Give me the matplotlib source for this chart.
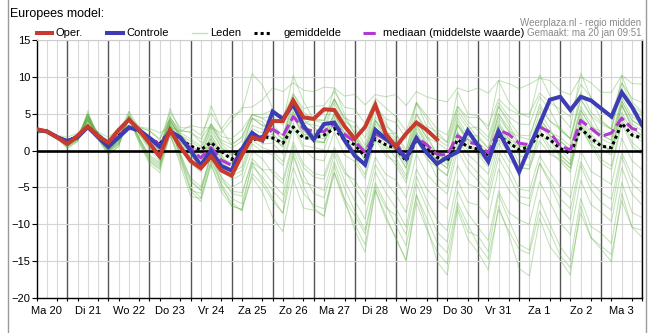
import numpy as np
import matplotlib
matplotlib.use("Agg")
import matplotlib.pyplot as plt
from matplotlib.lines import Line2D

plt.rcParams['font.family'] = ['Liberation Sans', 'DejaVu Sans']

# lead time in hours from ma 20 00:00, one value every 6 h
uren = np.arange(6, 361, 6)
dagen = ['Ma 20', 'Di 21', 'Wo 22', 'Do 23', 'Vr 24', 'Za 25', 'Zo 26', 'Ma 27',
         'Di 28', 'Wo 29', 'Do 30', 'Vr 31', 'Za 1', 'Zo 2', 'Ma 3']

oper = [2.9, 2.6, 1.8, 0.9, 2.0, 3.3, 1.9, 1.1, 2.8, 4.2, 2.8, 1.0, -0.8, 2.8, 0.5,
        -1.4, -2.4, -0.8, -2.7, -3.4, -0.6, 1.8, 1.4, 4.0, 4.0, 6.8, 4.5, 4.3, 5.6, 5.5,
        3.3, 1.6, 3.2, 6.2, 2.3, 0.5, 2.3, 3.8, 2.8, 1.5]
controle = [2.8, 2.6, 1.8, 1.3, 1.8, 3.2, 1.8, 0.5, 1.8, 3.1, 2.8, 1.7, 0.5, 2.6, 1.8,
            0.0, -2.0, 0.0, -2.1, -2.7, 0.2, 2.4, 1.4, 5.3, 4.3, 6.3, 3.4, 1.5, 3.6, 3.8,
            1.4, -0.7, -1.9, 2.8, 1.6, 0.5, -1.1, 1.7, -0.3, -1.8, -0.9, -0.2, 2.7, 0.7,
            -1.5, 2.6, 0.0, -2.9, 0.4, 3.6, 6.9, 7.3, 5.5, 7.3, 6.8, 5.7, 4.6, 7.9, 5.9, 3.4]
gemiddelde = [2.8, 2.6, 1.9, 1.2, 2.0, 3.2, 2.1, 1.0, 2.0, 3.2, 2.6, 1.7, 0.9, 2.7, 1.6,
              0.6, 0.1, 1.1, -0.1, -1.2, 0.3, 1.4, 1.9, 1.7, 1.0, 3.2, 1.7, 1.7, 2.1, 3.0,
              1.4, 0.8, -0.8, 1.6, 0.8, 0.3, -1.4, 1.5, 0.3, -0.9, -1.4, 1.5, 0.5, 0.2,
              -0.7, 2.0, 1.1, 0.1, 0.5, 2.3, 1.5, 0.3, -0.4, 3.0, 1.7, 0.6, 0.4, 3.7, 2.1, 1.7]
mediaan = [2.8, 2.6, 1.9, 1.2, 2.0, 3.2, 2.1, 0.9, 2.0, 3.2, 2.7, 1.8, 0.8, 2.7, 1.7,
           0.3, -1.0, 0.4, -1.3, -2.0, 0.0, 1.8, 1.8, 2.9, 2.0, 4.6, 3.0, 2.6, 2.6, 3.6,
           2.2, 1.2, -0.2, 2.3, 1.5, 0.9, -0.9, 1.8, 0.8, -0.5, -0.6, 2.0, 1.2, 0.8,
           -0.3, 2.8, 2.2, 1.0, 0.8, 3.2, 2.5, 0.6, 0.1, 4.1, 3.0, 1.9, 2.4, 4.4, 3.0, 2.6]

leden = [
    [3.2, 2.6, 2.1, 1.8, 2.4, 3.3, 2.5, 1.8, 3.0, 3.4, 3.2, 3.0, 2.4, 3.2, 2.6, 3.4, 3.1, 3.1, 2.4, 4.1, 5.8, 5.9, 6.9, 8.5, 8.0, 9.2, 8.2, 8.0, 8.6, 8.5, 7.4, 7.6, 6.2, 7.6, 7.3, 7.6, 6.1, 8.0, 7.3, 6.9, 6.6, 8.5, 8.0, 8.5, 7.8, 9.5, 9.1, 8.4, 9.0, 9.8, 9.5, 8.1, 7.6, 10.0, 9.2, 7.9, 7.9, 10.2, 9.1, 9.0],
    [2.8, 2.8, 2.0, 1.4, 2.0, 3.8, 2.4, 1.3, 2.1, 4.1, 3.1, 2.7, 1.6, 4.4, 2.8, 2.4, 1.6, 3.6, 1.9, 1.6, 2.8, 4.9, 4.9, 5.5, 4.5, 7.7, 5.7, 6.0, 6.1, 8.0, 5.9, 5.6, 3.7, 7.1, 5.8, 4.6, 2.6, 6.5, 4.8, 2.9, 2.1, 6.0, 4.5, 4.5, 3.3, 7.0, 5.6, 4.9, 5.0, 7.8, 6.5, 5.6, 4.6, 9.0, 7.2, 5.4, 4.9, 9.2, 7.1, 6.5],
    [2.6, 2.7, 1.9, 1.1, 1.9, 4.0, 2.3, 1.2, 2.2, 4.6, 3.2, 2.7, 1.4, 5.2, 3.1, 3.1, 2.1, 5.1, 2.9, 0.8, 1.8, 4.9, 4.4, 3.2, 2.0, 6.2, 3.7, 4.2, 4.1, 7.0, 4.4, 3.8, 1.7, 6.1, 4.3, 3.8, 1.6, 6.5, 4.3, 2.1, 1.1, 6.0, 4.0, 2.7, 1.3, 6.0, 4.1, 2.1, 2.0, 5.8, 4.0, 2.8, 1.6, 7.0, 4.7, 3.6, 2.9, 8.2, 5.6, 4.7],
    [2.5, 2.6, 1.8, 1.2, 2.1, 4.1, 2.4, 0.9, 2.0, 4.3, 2.9, 2.0, 0.7, 4.5, 2.4, 1.6, 0.6, 3.6, 1.4, 0.8, 1.8, 4.9, 4.4, 4.7, 3.5, 7.7, 5.2, 4.2, 4.1, 7.0, 4.4, 2.3, 0.2, 4.6, 2.8, 1.3, -0.9, 4.0, 1.8, 1.1, 0.1, 5.0, 3.0, 3.2, 1.8, 6.5, 4.6, 3.6, 3.5, 7.3, 5.5, 2.8, 1.6, 7.0, 4.7, 2.1, 1.4, 6.7, 4.1, 3.2],
    [2.7, 2.9, 2.1, 0.8, 1.8, 4.1, 2.1, 0.8, 1.9, 4.8, 3.0, 1.5, -0.1, 4.7, 2.1, 0.9, -0.4, 3.6, 0.9, -0.5, 0.3, 4.4, 3.4, 3.0, 1.5, 6.7, 3.7, 3.5, 3.1, 7.0, 3.9, 3.1, 0.7, 6.1, 3.8, 1.6, -0.9, 5.0, 2.3, -0.7, -1.9, 4.0, 1.5, 1.0, -0.7, 5.0, 2.6, 1.9, 1.5, 6.3, 4.0, 3.1, 1.6, 8.0, 5.2, 3.9, 2.9, 9.2, 6.1, 5.0],
    [2.5, 2.5, 1.7, 1.1, 1.9, 4.0, 2.3, 0.8, 2.0, 4.2, 2.8, 1.6, 0.3, 4.1, 2.0, 0.6, -0.4, 2.6, 0.4, -0.7, 0.3, 3.4, 2.9, 2.7, 1.5, 5.7, 3.2, 2.2, 2.1, 5.0, 2.4, 1.8, -0.3, 4.1, 2.3, 2.3, 0.1, 5.0, 2.8, 1.6, 0.6, 5.5, 3.5, 1.7, 0.3, 5.0, 3.1, 0.6, 0.5, 4.3, 2.5, 1.3, 0.1, 5.5, 3.2, 2.1, 1.4, 6.7, 4.1, 3.2],
    [2.6, 2.8, 2.0, 0.8, 1.6, 4.2, 1.9, 0.5, 1.7, 4.5, 2.7, 1.7, 0.4, 4.2, 2.1, 1.3, 0.3, 3.3, 1.1, 0.3, 1.3, 4.4, 3.9, 2.2, 1.0, 5.2, 2.7, 1.7, 1.6, 4.5, 1.9, 1.3, -0.8, 3.6, 1.8, 1.3, -0.9, 4.0, 1.8, -0.4, -1.4, 3.5, 1.5, -0.3, -1.7, 3.0, 1.1, 0.1, 0.0, 3.8, 2.0, 1.3, 0.1, 5.5, 3.2, 2.6, 1.9, 7.2, 4.6, 3.7],
    [2.6, 2.7, 1.9, 0.9, 1.8, 4.2, 2.2, 0.1, 1.5, 4.1, 2.3, 0.5, -1.1, 3.7, 1.1, 0.4, -0.9, 3.1, 0.4, -0.5, 0.3, 4.4, 3.4, 3.5, 2.0, 7.2, 4.2, 3.0, 2.6, 6.5, 3.4, 1.1, -1.3, 4.1, 1.8, 0.1, -2.4, 3.5, 0.8, -0.2, -1.4, 4.5, 2.0, 2.0, 0.3, 6.0, 3.6, 0.9, 0.5, 5.3, 3.0, 0.1, -1.4, 5.0, 2.2, 0.9, -0.1, 6.2, 3.1, 2.0],
    [2.5, 2.7, 1.8, 0.9, 1.7, 4.3, 2.0, 0.2, 1.6, 4.2, 2.4, 1.4, 0.1, 3.9, 1.8, -0.4, -1.4, 1.6, -0.6, -2.2, -1.2, 1.9, 1.4, 1.7, 0.5, 4.7, 2.2, 2.2, 2.1, 5.0, 2.4, 1.8, -0.3, 4.1, 2.3, 0.8, -1.4, 3.5, 1.3, -1.4, -2.4, 2.5, 0.5, 0.2, -1.2, 3.5, 1.6, 0.6, 0.5, 4.3, 2.5, 1.8, 0.6, 6.0, 3.7, 1.6, 0.9, 6.2, 3.6, 2.7],
    [2.7, 2.8, 2.0, 0.6, 1.9, 4.4, 2.1, 0.6, 1.8, 4.6, 2.8, 0.8, -0.5, 3.3, 1.2, -0.9, -1.9, 1.1, -1.1, -1.7, -0.7, 2.4, 1.9, 2.2, 1.0, 5.2, 2.7, 1.2, 1.1, 4.0, 1.4, -0.2, -2.3, 2.1, 0.3, 0.3, -1.9, 3.0, 0.8, -0.4, -1.4, 3.5, 1.5, 1.2, -0.2, 4.5, 2.6, 0.1, 0.0, 3.8, 2.0, -0.7, -1.9, 3.5, 1.2, 0.6, -0.1, 5.2, 2.6, 1.7],
    [2.4, 2.7, 1.7, 0.7, 1.5, 4.4, 1.8, -0.2, 1.3, 4.4, 2.2, 0.1, -1.4, 3.4, 0.8, -1.7, -2.9, 1.1, -1.6, -3.0, -2.2, 1.9, 0.9, 1.0, -0.5, 4.7, 1.7, 1.5, 1.1, 5.0, 1.9, 0.0, -2.3, 3.1, 0.8, -1.0, -3.4, 2.5, -0.2, -1.2, -2.4, 3.5, 1.0, -0.6, -2.2, 3.5, 1.1, -1.7, -2.0, 2.8, 0.5, -0.5, -1.9, 4.5, 1.7, 0.9, -0.1, 6.2, 3.1, 2.0],
    [2.5, 2.8, 1.9, 0.8, 1.7, 4.5, 1.9, 0.2, 1.5, 4.8, 2.6, 1.0, -0.6, 4.2, 1.6, -0.7, -1.9, 2.1, -0.6, -3.5, -2.7, 1.4, 0.4, -0.1, -1.5, 3.7, 0.7, 0.4, 0.1, 4.0, 0.9, -1.0, -3.3, 2.1, -0.2, -2.0, -4.4, 1.5, -1.2, -2.2, -3.4, 2.5, 0.0, -0.1, -1.7, 4.0, 1.6, -0.7, -1.0, 3.8, 1.5, -1.0, -2.4, 4.0, 1.2, -1.2, -2.1, 4.2, 1.1, -0.1],
    [2.5, 2.7, 1.8, 0.7, 2.0, 4.9, 2.3, 0.0, 1.4, 4.6, 2.4, 0.4, -1.1, 3.7, 1.1, -1.2, -2.4, 1.6, -1.1, -4.0, -3.2, 0.9, -0.1, -0.6, -2.0, 3.2, 0.2, -1.1, -1.4, 2.5, -0.6, -1.5, -3.8, 1.6, -0.7, -1.5, -3.9, 2.0, -0.7, -3.7, -4.9, 1.0, -1.5, -3.1, -4.7, 1.0, -1.4, -2.2, -2.5, 2.3, 0.0, -1.5, -2.9, 3.5, 0.7, -1.7, -2.6, 3.7, 0.6, -0.6],
    [2.6, 2.8, 2.0, 0.8, 1.6, 4.9, 2.0, 0.1, 1.2, 4.3, 1.7, -0.6, -1.6, 2.7, -0.4, -3.7, -4.9, -0.9, -3.6, -5.0, -4.2, -0.1, -1.1, -3.1, -4.5, 0.7, -2.3, -3.6, -3.9, 0.0, -3.1, -4.0, -6.3, -0.9, -3.2, -4.0, -6.4, -0.5, -3.2, -4.7, -5.9, 0.0, -2.5, -4.1, -5.7, 0.0, -2.4, -5.2, -5.5, -0.7, -3.0, -5.0, -6.4, 0.0, -2.8, -3.7, -4.6, 1.7, -1.4, -2.6],
    [2.4, 2.6, 1.6, 0.7, 1.4, 4.7, 1.8, 0.0, 1.0, 4.2, 1.6, -1.2, -2.2, 2.2, -0.9, -4.2, -5.4, -1.4, -4.1, -5.5, -5.7, -1.6, -2.6, -2.6, -4.0, 1.2, -1.8, -3.1, -3.4, 0.5, -2.6, -5.0, -7.3, -1.9, -4.2, -6.0, -8.4, -2.5, -5.2, -6.7, -7.9, -2.0, -4.5, -5.1, -6.7, -1.0, -3.4, -6.2, -6.5, -1.7, -4.0, -6.5, -7.9, -1.5, -4.3, -5.7, -6.6, -0.3, -3.4, -4.6],
    [2.5, 2.8, 1.9, 0.6, 1.5, 4.9, 1.7, -0.2, 0.9, 4.4, 1.4, -1.0, -2.0, 3.0, -0.6, -5.0, -6.4, -1.4, -4.6, -6.5, -7.2, -2.1, -3.6, -5.4, -7.0, -0.8, -4.3, -4.8, -5.4, -0.5, -4.1, -6.8, -9.3, -2.9, -5.7, -7.8, -10.4, -3.5, -6.7, -9.4, -10.9, -4.0, -7.0, -7.4, -9.2, -2.5, -5.4, -7.0, -7.5, -1.7, -4.5, -7.8, -9.4, -2.0, -5.3, -7.0, -8.1, -0.8, -4.4, -5.8],
    [2.4, 2.7, 1.7, 0.5, 1.4, 4.8, 1.6, -0.3, 0.8, 4.2, 1.2, -1.4, -2.4, 2.2, -1.4, -5.4, -6.9, -1.9, -5.1, -7.0, -8.2, -3.1, -4.6, -6.8, -8.5, -2.3, -5.8, -7.4, -7.9, -3.0, -6.6, -8.8, -11.3, -4.9, -7.7, -8.8, -11.4, -4.5, -7.7, -11.0, -12.4, -5.5, -8.5, -10.4, -12.2, -5.5, -8.4, -9.4, -10.0, -4.2, -7.0, -9.8, -11.4, -4.0, -7.3, -8.4, -9.6, -2.3, -5.9, -7.4],
    [2.4, 2.8, 1.8, 0.4, 1.3, 5.0, 1.5, -0.6, 0.6, 4.4, 1.0, -1.8, -3.0, 2.2, -1.9, -6.2, -6.5, -1.9, -5.6, -7.5, -8.0, -3.6, -5.6, -9.1, -11.0, -3.8, -7.8, -8.1, -8.9, -3.0, -7.1, -10.0, -12.8, -5.4, -8.7, -12.0, -14.9, -7.0, -10.7, -13.7, -15.4, -7.5, -11.0, -11.6, -13.7, -6.0, -9.4, -12.7, -13.5, -6.7, -10.0, -13.0, -14.9, -6.5, -10.3, -11.2, -12.6, -4.3, -8.4, -9.1],
    [2.5, 2.7, 1.9, 0.7, 1.6, 5.0, 1.8, 0.0, 1.0, 4.7, 1.7, -0.8, -1.8, 3.2, -0.4, -4.0, -5.4, -0.4, -3.6, -5.8, -6.2, -1.1, -2.6, -4.4, -6.0, 0.2, -3.3, -5.8, -6.4, -1.5, -5.1, -8.2, -10.8, -4.4, -7.2, -10.2, -12.9, -6.0, -9.2, -12.4, -13.9, -7.0, -10.0, -12.8, -14.7, -8.0, -10.9, -13.4, -14.0, -8.2, -11.0, -14.2, -15.9, -8.5, -11.8, -13.0, -14.1, -6.8, -10.4, -10.8],
    [2.3, 2.6, 1.6, 0.3, 1.2, 5.4, 1.6, -0.4, 0.5, 5.3, 1.5, -1.5, -2.6, 3.7, -0.9, -5.4, -5.8, -0.4, -4.6, -7.5, -8.0, -1.6, -4.1, -6.4, -8.5, -0.3, -4.8, -7.8, -8.9, -2.0, -6.6, -10.8, -13.8, -5.4, -9.2, -11.8, -14.9, -6.0, -10.2, -15.0, -16.9, -8.0, -12.0, -13.8, -16.2, -7.5, -11.4, -16.0, -17.0, -9.2, -13.0, -14.8, -16.9, -7.5, -11.8, -13.4, -15.1, -5.8, -10.4, -11.8],
    [2.7, 2.8, 2.0, 0.8, 2.0, 4.6, 2.3, 0.7, 2.3, 5.3, 3.1, 1.7, -0.1, 5.7, 2.6, 2.6, 1.1, 6.1, 2.9, 4.8, 5.3, 10.4, 8.9, 5.7, 4.0, 10.2, 6.7, 4.2, 3.6, 8.5, 4.9, 2.3, -0.3, 6.1, 3.3, 2.3, -0.4, 6.5, 3.3, 2.6, 1.1, 8.0, 5.0, 4.7, 2.8, 9.5, 6.6, 5.1, 4.5, 10.3, 7.5, 4.8, 3.1, 10.5, 7.2, 4.1, 2.9, 10.2, 6.6, 5.2],
    [2.6, 2.7, 1.9, 0.6, 1.8, 4.4, 2.1, 0.6, 1.8, 4.6, 2.8, 1.6, 0.3, 4.1, 2.0, 0.1, -0.9, 2.1, -0.1, -1.2, -0.2, 2.9, 2.4, 1.7, 0.5, 4.7, 2.2, 1.2, 1.1, 4.0, 1.4, 0.8, -1.3, 3.1, 1.3, -0.2, -2.4, 2.5, 0.3, -2.4, -3.4, 1.5, -0.5, -1.8, -3.2, 1.5, -0.4, -2.4, -2.5, 1.3, -0.5, -1.2, -2.4, 3.0, 0.7, 0.1, -0.6, 4.7, 2.1, 1.2],
]

W, H = 652, 333
fig = plt.figure(figsize=(W / 100, H / 100), dpi=100)
ax = fig.add_axes([36.5 / W, 1 - 298 / H, (642.3 - 36.5) / W, 258 / H])
ax.set_xlim(6, 360)
ax.set_ylim(-20, 15)

# grid: light 6-hour lines, dark day lines, light horizontal lines
for h in range(6, 361, 6):
    if h % 24 == 0:
        ax.axvline(h, color='#555555', lw=1.0, zorder=0)
    else:
        ax.axvline(h, color='#d9d9d9', lw=0.8, zorder=0)
for v in range(-15, 16, 5):
    ax.axhline(v, color='#d4d4d4', lw=0.8, zorder=0)

for lid in leden:
    ax.plot(uren, lid, color='#62b446', lw=0.75, alpha=0.38, zorder=1)

ax.axhline(0, color='black', lw=1.9, zorder=2)

ax.plot(uren, gemiddelde, color='black', lw=2.2, ls=(0, (1, 1)), zorder=3)
ax.plot(uren, mediaan, color='#b03ad0', lw=2.2, ls=(0, (4, 1.5)), zorder=3.5)
ax.plot(uren, controle, color='#3c3cb4', lw=2.9, zorder=4, solid_joinstyle='miter')
ax.plot(uren[:len(oper)], oper, color='#c8392e', lw=2.9, zorder=5, solid_joinstyle='miter')

ax.set_yticks(range(-20, 16, 5))
ax.tick_params(axis='y', length=3.5, width=0.8, pad=1, labelsize=8, direction='out')
ax.set_xticks(np.arange(12, 360, 24))
ax.set_xticklabels(dagen)
ax.set_xticks(np.arange(6, 361, 6), minor=True)
ax.tick_params(axis='x', which='major', length=0, pad=6, labelsize=8)
ax.tick_params(axis='x', which='minor', length=2.5, width=0.8, direction='out')

for s in ['left', 'bottom', 'right']:
    ax.spines[s].set_color('black')
    ax.spines[s].set_linewidth(1.0)
ax.spines['top'].set_color('#cccccc')

# title, legend row and source note
fig.text(10 / W, 1 - 17.5 / H, 'Europees model:', fontsize=9, va='baseline')

ly = 1 - 32.5 / H
items = [
    (37, 52, 55, 'Oper.', dict(color='#c8392e', lw=2.9)),
    (107, 123, 126, 'Controle', dict(color='#3c3cb4', lw=2.9)),
    (192, 207, 210, 'Leden', dict(color='#c8dcc2', lw=1.0)),
    (254, 270, 284, 'gemiddelde', dict(color='black', lw=2.2, ls=(0, (1, 1)))),
    (363, 379, 383, 'mediaan (middelste waarde)', dict(color='#b03ad0', lw=2.2, ls=(0, (4, 1.5)))),
]
for x0, x1, xt, label, style in items:
    fig.add_artist(Line2D([x0 / W, x1 / W], [ly, ly], transform=fig.transFigure, **style))
    fig.text(xt / W, ly, label, fontsize=8, va='center')

fig.text(641.5 / W, 1 - 26.5 / H, 'Weerplaza.nl - regio midden', fontsize=7,
         color='#8a8a8a', ha='right', va='baseline')
fig.text(641.5 / W, 1 - 35.5 / H, 'Gemaakt: ma 20 jan 09:51', fontsize=7,
         color='#8a8a8a', ha='right', va='baseline')

# page frame lines at both sides
for xf in (7.5, 645.5):
    fig.add_artist(Line2D([xf / W, xf / W], [0, 1], transform=fig.transFigure,
                          color='#9a9a9a', lw=1.0))

fig.savefig('out.png', dpi=100)
